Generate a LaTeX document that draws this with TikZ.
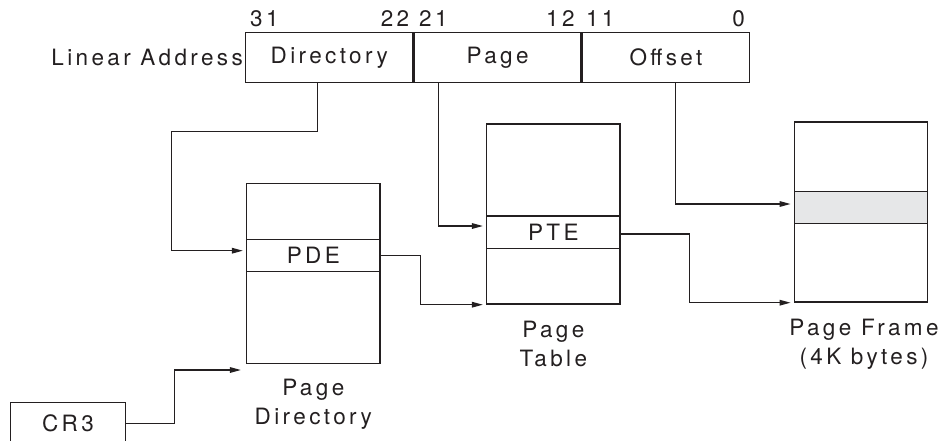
\documentclass[tikz,border=0pt]{standalone}
\usepackage{fontspec}
\setmainfont[LetterSpace=15]{TeX Gyre Heros}
\usetikzlibrary{arrows.meta, positioning}
\definecolor{inkgray}{RGB}{35,31,32}
\definecolor{slotgray}{RGB}{230,231,232}

\begin{document}
\begin{tikzpicture}[
    x=1pt, y=-1pt,
    every node/.style={font=\fontsize{22.5}{28.5}\selectfont, text=inkgray},
    field/.style={rectangle, draw=inkgray, line width=1.4pt, minimum width=167pt,
                  minimum height=50.4pt, inner sep=0pt},
    tablebox/.style={rectangle, draw=inkgray, line width=1.4pt, minimum width=133.3pt,
                     minimum height=180pt, inner sep=0pt},
    entry/.style={rectangle, draw=inkgray, line width=1.4pt, minimum width=133.3pt,
                  minimum height=32.4pt, inner sep=0pt},
    bit/.style={inner sep=0pt},
    caption/.style={align=center, inner sep=0pt},
    arrow/.style={-{Triangle[length=11pt,width=5.5pt]}, line width=1.4pt, draw=inkgray,
                  shorten >=3pt}
]
    \clip (0,0) rectangle (945,440);

    % linear address fields
    \node[field] (dir) at (329.2,57.5) {Directory};
    \node[field, right=0pt of dir] (pg) {Page};
    \node[field, right=0pt of pg] (off) {Offset};
    \node[bit, anchor=east] (la) at (243,57.5) {Linear Address};

    \node[bit, anchor=base west] (b31) at ([shift={(5,-5.3)}]dir.north west) {31};
    \node[bit, anchor=base east] (b22) at ([shift={(-4,-5.3)}]dir.north east) {22};
    \node[bit, anchor=base west] (b21) at ([shift={(5.6,-5.3)}]pg.north west) {21};
    \node[bit, anchor=base east] (b12) at ([shift={(-7,-5.3)}]pg.north east) {12};
    \node[bit, anchor=base west] (b11) at ([shift={(4,-5.3)}]off.north west) {11};
    \node[bit, anchor=base east] (b0) at ([shift={(-5,-5.3)}]off.north east) {0};

    % tables
    \node[tablebox] (pd) at (313.3,273.3) {};
    \node[entry] (pde) at (313.3,255.5) {PDE};
    \node[tablebox] (pt) at (553.3,214) {};
    \node[entry] (pte) at (553.3,232) {PTE};
    \node[tablebox] (pf) at (861,212) {};
    \node[entry, fill=slotgray] (frow) at (861,207.5) {};

    \node[caption, below=15pt of pd] (pdcap) {Page\\Directory};
    \node[caption, below=16.5pt of pt] (ptcap) {Page\\Table};
    \node[caption, below=16.5pt of pf, xshift=3pt] (pfcap) {Page Frame\\(4K bytes)};

    \node[field, minimum width=114.6pt, minimum height=41pt] (cr3) at (68,423.2) {CR3};

    % connectors
    \coordinate (dirbend) at (171.7,131.7);
    \draw[arrow] ([xshift=-11.9pt]dir.south) |- (dirbend) |- ([yshift=4.8pt]pde.west);
    \draw[arrow] ([xshift=-59.2pt]pg.south) |- ([yshift=6pt]pte.west);
    \draw[arrow] ([xshift=9.5pt]off.south) |- ([yshift=3.5pt]frow.west);
    \draw[arrow] (pde.east) -- ++(40,0) |- (pt.south west);
    \draw[arrow] ([yshift=-2pt]pte.east) -- ++(68.7,0) |- (pf.south west);
    \draw[arrow, shorten >=5pt] (cr3.east) -- ++(48.7,0) |- ([yshift=-6pt]pd.south west);
\end{tikzpicture}
\end{document}
